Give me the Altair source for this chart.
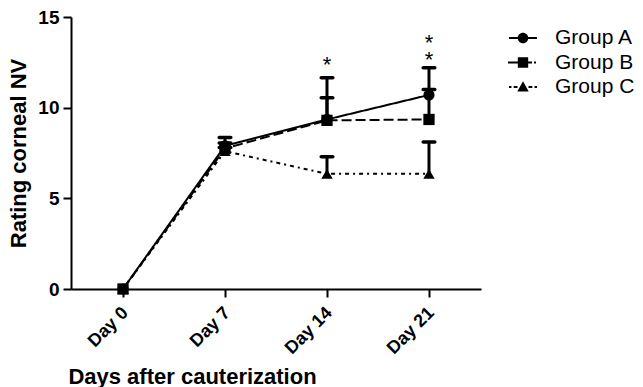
import altair as alt
import pandas as pd

days = ["Day 0", "Day 7", "Day 14", "Day 21"]
groups = ["Group A", "Group B", "Group C"]

group_a = [0.0, 7.9, 9.35, 10.7]
group_a_err = [0.0, 0.45, 2.3, 1.5]
group_b = [0.0, 7.75, 9.3, 9.35]
group_b_err = [0.0, 0.3, 1.25, 1.65]
group_c = [0.0, 7.6, 6.35, 6.35]
group_c_err = [0.0, 0.2, 0.95, 1.75]

star_days = ["Day 14", "Day 21", "Day 21"]
star_values = [12.63, 13.84, 12.9]

y_ticks = [0, 5, 10, 15]

FONT = "Liberation Sans"

# long table, drawn in order C, A, B (B on top)
rows = []
for g, vals, errs in [("Group C", group_c, group_c_err),
                      ("Group A", group_a, group_a_err),
                      ("Group B", group_b, group_b_err)]:
    for i, d in enumerate(days):
        rows.append({"day": d, "group": g, "value": vals[i],
                     "upper": vals[i] + errs[i], "err": errs[i], "order": i})
df = pd.DataFrame(rows)
err_df = df[df["err"] > 0]
stars_df = pd.DataFrame({"day": star_days, "value": star_values, "label": ["*"] * 3})

x_enc = alt.X("day:N", sort=days,
              scale=alt.Scale(type="point", domain=days, padding=0.51),
              axis=alt.Axis(title="Days after cauterization", labelAngle=315,
                            labelAlign="right", labelBaseline="middle",
                            labelFont=FONT, labelFontSize=18, labelFontWeight="bold",
                            labelPadding=13, labelOffset=2, labelColor="black",
                            titleFont=FONT, titleFontSize=22, titleFontWeight="bold",
                            titleColor="black", titleX=121, titleY=94,
                            titleAlign="center", titleBaseline="alphabetic",
                            domainColor="black", domainWidth=2,
                            tickColor="black", tickWidth=2, tickSize=8))
y_scale = alt.Scale(domain=[0, 15], nice=False, zero=True)
y_enc = alt.Y("value:Q", scale=y_scale,
              axis=alt.Axis(title="Rating corneal NV", values=y_ticks,
                            labelFont=FONT, labelFontSize=19, labelFontWeight="bold",
                            labelPadding=4, labelColor="black",
                            titleFont=FONT, titleFontSize=22, titleFontWeight="bold",
                            titleColor="black", titleX=-46, titleY=136,
                            titleAngle=270, titleAlign="center",
                            titleBaseline="alphabetic",
                            domainColor="black", domainWidth=2,
                            tickColor="black", tickWidth=2, tickSize=8, grid=False))

base = alt.Chart(df)

err_rules = alt.Chart(err_df).mark_rule(color="black", strokeWidth=3, opacity=1).encode(
    x=alt.X("day:N", sort=days), y=alt.Y("value:Q"), y2="upper:Q")
caps = alt.Chart(err_df).mark_tick(color="black", size=15, thickness=3.5,
                                    cornerRadius=2, opacity=1).encode(
    x=alt.X("day:N", sort=days), y=alt.Y("upper:Q"))

dash_map = {"Group A": [1, 0], "Group B": [10, 4], "Group C": [4, 4, 2, 4]}
lines = []
for g in ["Group C", "Group A", "Group B"]:
    lines.append(base.transform_filter(alt.datum.group == g).mark_line(
        color="black", strokeWidth=2, strokeDash=dash_map[g], opacity=1).encode(
        x=alt.X("day:N", sort=days), y="value:Q", order="order:Q"))

points = base.mark_point(filled=True, color="black", opacity=1).encode(
    x=alt.X("day:N", sort=days), y="value:Q",
    shape=alt.Shape("group:N", scale=alt.Scale(domain=groups,
                    range=["circle", "square", "triangle-up"]), legend=None),
    size=alt.Size("group:N", scale=alt.Scale(domain=groups, range=[125, 130, 160]),
                  legend=None))

path_a = ("M-1.27,-0.09H1.27V0.09H-1.27Z "
          "M0.48,0A0.48,0.48,0,1,1,-0.48,0A0.48,0.48,0,1,1,0.48,0Z")
path_b = ("M-1.36,-0.09H-0.45V0.09H-1.36Z M-0.47,-0.47H0.47V0.47H-0.47Z "
          "M0.45,-0.09H0.82V0.09H0.45Z M1.0,-0.09H1.18V0.09H1.0Z")
path_c = ("M-1.27,-0.09H-1.05V0.09H-1.27Z M-0.85,-0.09H-0.5V0.09H-0.85Z "
          "M0,-0.52L0.52,0.4H-0.52Z "
          "M0.5,-0.09H0.85V0.09H0.5Z M1.05,-0.09H1.27V0.09H1.05Z")

legend_layer = base.mark_point(filled=True, color="black", opacity=0).encode(
    x=alt.X("day:N", sort=days), y="value:Q",
    shape=alt.Shape("group:N", scale=alt.Scale(domain=groups,
                    range=[path_a, path_b, path_c]),
                    legend=alt.Legend(title=None, orient="none", legendX=441,
                                      legendY=10, symbolSize=484,
                                      symbolFillColor="black", symbolStrokeWidth=0,
                                      symbolOpacity=1,
                                      labelFont=FONT, labelFontSize=21,
                                      labelColor="black", labelOffset=21,
                                      rowPadding=3.5, padding=0)))

stars = alt.Chart(stars_df).mark_text(font=FONT, fontSize=22, color="black",
                                      baseline="alphabetic", dy=12).encode(
    x=alt.X("day:N", sort=days), y="value:Q", text="label:N")

axes_layer = alt.Chart(df).mark_point(opacity=0).encode(x=x_enc, y=y_enc)

chart = alt.layer(axes_layer, err_rules, caps, *lines, points, legend_layer, stars
                  ).resolve_scale(shape="independent").properties(
    width=410, height=272,
    background="white",
    autosize=alt.AutoSizeParams(type="none"),
    padding={"left": 63, "top": 9, "right": 154, "bottom": 98},
).configure_view(strokeWidth=0, stroke="transparent")

chart.save("out.html", embed_options={"renderer": "svg", "actions": False})
